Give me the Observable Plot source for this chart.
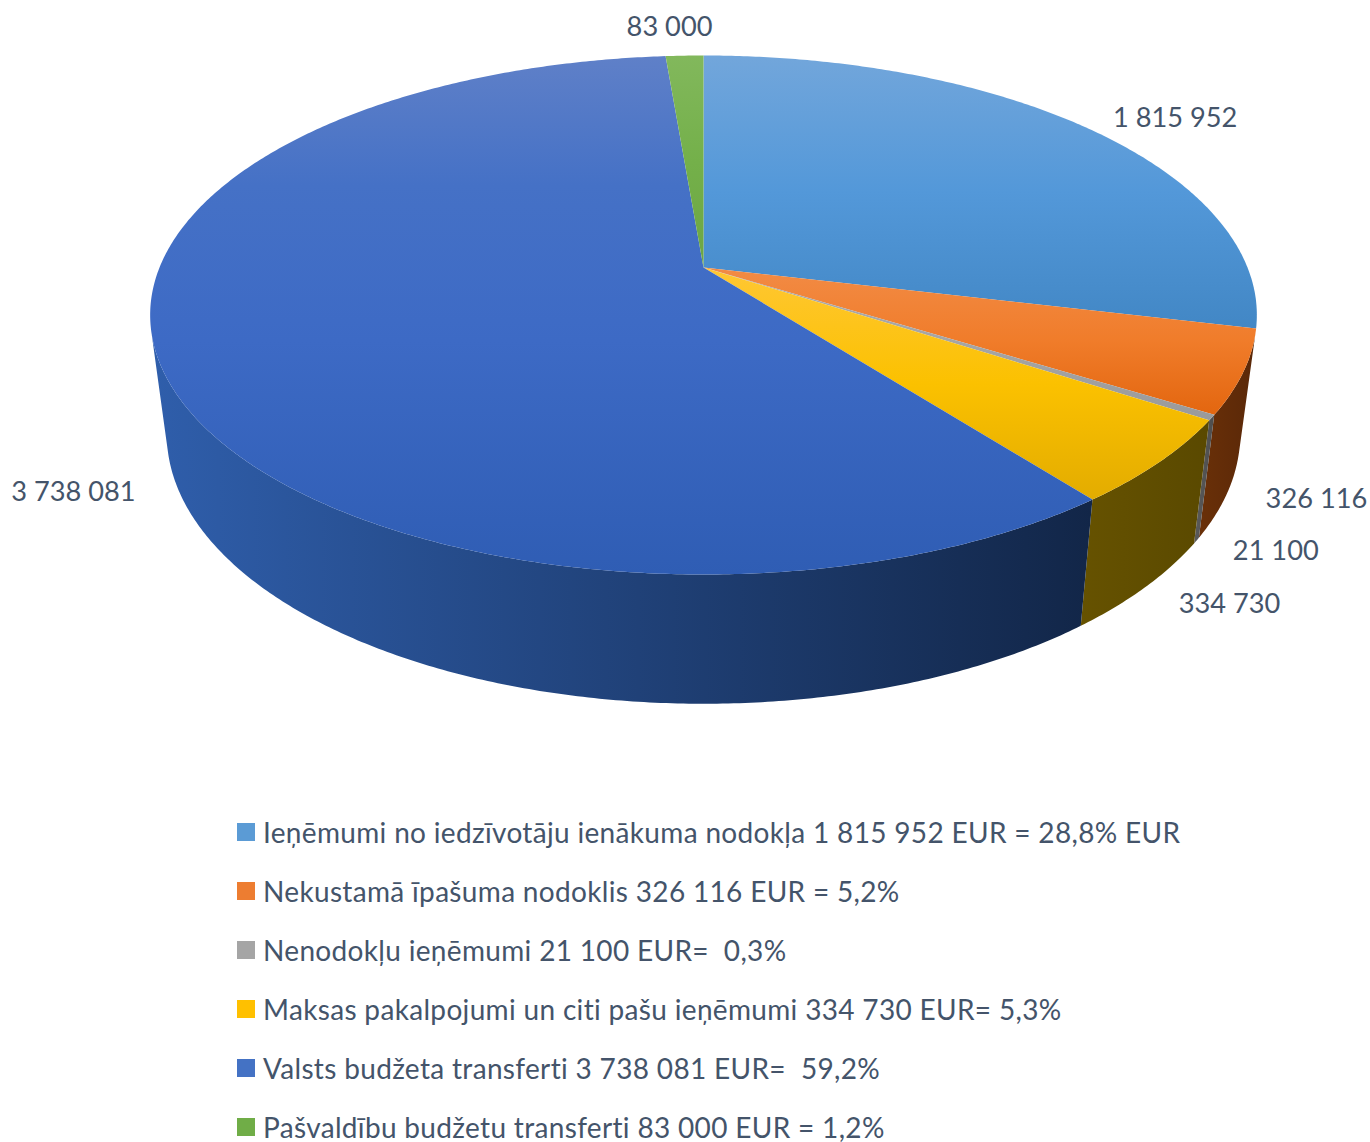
<!DOCTYPE html>
<html lang="lv">
<head>
<meta charset="utf-8">
<script src="https://cdn.jsdelivr.net/npm/d3@7"></script>
<script src="https://cdn.jsdelivr.net/npm/@observablehq/plot@0.6"></script>
<style>
  html, body { margin: 0; padding: 0; background: #fff; width: 1370px; height: 1142px; overflow: hidden; }
  #legend { padding-top: 27px; font-family: Lato, "Noto Sans", sans-serif; font-size: 28px; letter-spacing: 0.33px; color: #44546A; }
  .row { display: flex; align-items: center; height: 30px; margin-bottom: 29px; padding-left: 237px; white-space: pre; }
  .sw { width: 18px; height: 18px; margin-right: 8px; flex: none; }
</style>
</head>
<body>
<div id="chart"></div>
<div id="legend"></div>
<script>
// ---- data ----
const keys = ["iedz", "nek", "nenod", "maks", "valsts", "pasv"];
const values = [1815952, 326116, 21100, 334730, 3738081, 83000];
const valueLabels = ["1 815 952", "326 116", "21 100", "334 730", "3 738 081", "83 000"];
const legendLabels = [
  "Ieņēmumi no iedzīvotāju ienākuma nodokļa 1 815 952 EUR = 28,8% EUR",
  "Nekustamā īpašuma nodoklis 326 116 EUR = 5,2%",
  "Nenodokļu ieņēmumi 21 100 EUR=  0,3%",
  "Maksas pakalpojumi un citi pašu ieņēmumi 334 730 EUR= 5,3%",
  "Valsts budžeta transferti 3 738 081 EUR=  59,2%",
  "Pašvaldību budžetu transferti 83 000 EUR = 1,2%"
];
// ---- styling ----
const topStops = [
  [[0, "#72A6DB"], [0.5, "#5398D9"], [1, "#4287C5"]],
  [[0, "#F28B45"], [0.5, "#F07C2A"], [1, "#E3660F"]],
  [[0, "#ABABAB"], [0.5, "#A5A5A5"], [1, "#9A9A9A"]],
  [[0, "#FFC734"], [0.5, "#FBC100"], [1, "#E3AC00"]],
  [[0, "#5F80C8"], [0.25, "#4571C6"], [0.55, "#3D6AC5"], [1, "#2F5DB4"]],
  [[0, "#82B85C"], [0.5, "#74B04A"], [1, "#6CA643"]]
];
const sideStops = [
  null,
  ["#6A3008", "#5A2808"],
  ["#5A5A5A", "#4E4E4E"],
  ["#665200", "#5A4900"],
  ["#2F5EAB", "#122648"],
  null
];
const swatchColors = ["#5B9BD5", "#ED7D31", "#A5A5A5", "#FFC000", "#4472C4", "#70AD47"];

// ---- 3D pie projection (perspective disc, drawn in page-unit data space) ----
const pie = {cx: 703, cy: 267, k: 544, h: 250.8, q: -0.183};
const base = {sx: 0.97, sy: 1.04, y0: 384};
function onTop(deg) {
  const a = deg * Math.PI / 180, u = Math.sin(a), v = -Math.cos(a), w = 1 + pie.q * v;
  return [pie.cx + pie.k * u / w, pie.cy + pie.h * v / w];
}
function onBase(deg) {
  const [x, y] = onTop(deg);
  return [pie.cx + base.sx * (x - pie.cx), base.y0 + base.sy * (y - pie.cy)];
}
const total = d3.sum(values);
let acc = 0;
const slices = values.map((v, i) => {
  const a0 = acc / total * 360; acc += v; const a1 = acc / total * 360;
  return {i, key: keys[i], a0, a1, mid: (a0 + a1) / 2};
});
function angles(s) {
  const n = Math.max(2, Math.ceil((s.a1 - s.a0) / 0.5));
  return d3.range(n + 1).map(j => s.a0 + (s.a1 - s.a0) * j / n);
}
// a rim step faces the viewer when the wall below it turns outward
function faces(deg) {
  const [x0, y0] = onTop(deg), [x1, y1] = onTop(deg + 0.25), [bx, by] = onBase(deg);
  return (x1 - x0) * (by - y0) - (y1 - y0) * (bx - x0) < 0;
}
const topPoly = s => [[pie.cx, pie.cy], ...angles(s).map(onTop), [pie.cx, pie.cy]];
const sidePoly = s => {
  const seen = angles(s).filter(faces);
  const t = seen.map(onTop), b = seen.map(onBase).reverse();
  return [...t, ...b, t[0]];
};
// where each value label sits relative to the rim point at its slice's mid angle
const labelShift = [[88, -10], [73, 127], [64, 134], [70, 142], [-87, 128], [-15, -28]];
const labelRows = slices.map(s => {
  const [x, y] = onTop(s.mid);
  return {x: x + labelShift[s.i][0], y: y + labelShift[s.i][1], text: valueLabels[s.i]};
});
const sideOrder = [1, 2, 3, 4];

const chart = Plot.plot({
  width: 1370, height: 790,
  margin: 0,
  x: {domain: [0, 1370], range: [0, 1370], axis: null},
  y: {domain: [0, 790], range: [0, 790], axis: null},
  style: {background: "#fff", fontFamily: "Lato, 'Noto Sans', sans-serif"},
  marks: [
    ...sideOrder.map(i => Plot.line(sidePoly(slices[i]), {
      x: d => d[0], y: d => d[1], fill: `url(#side-${i})`, stroke: "none", curve: "linear"
    })),
    ...slices.map(s => Plot.line(topPoly(s), {
      x: d => d[0], y: d => d[1], fill: `url(#top-${s.i})`, stroke: "none", curve: "linear"
    })),
    Plot.text(labelRows, {
      x: "x", y: "y", text: "text", fontSize: 27.2, fill: "#44546A",
      textAnchor: "middle", lineAnchor: "middle"
    })
  ]
});
// gradients referenced by the marks above
const defs = d3.select(chart).insert("defs", ":first-child");
topStops.forEach((stops, i) => {
  const g = defs.append("linearGradient").attr("id", `top-${i}`)
    .attr("x1", 0).attr("y1", 0).attr("x2", 0).attr("y2", 1);
  stops.forEach(([o, c]) => g.append("stop").attr("offset", o).attr("stop-color", c));
});
sideStops.forEach((stops, i) => {
  if (!stops) return;
  const g = defs.append("linearGradient").attr("id", `side-${i}`)
    .attr("x1", 0).attr("y1", 0).attr("x2", 1).attr("y2", 0);
  stops.forEach((c, j) => g.append("stop").attr("offset", j / (stops.length - 1)).attr("stop-color", c));
});
chart.style.display = "block";
document.getElementById("chart").append(chart);

const legend = document.getElementById("legend");
legendLabels.forEach((t, i) => {
  const row = document.createElement("div"); row.className = "row";
  const sw = document.createElement("div"); sw.className = "sw"; sw.style.background = swatchColors[i];
  const tx = document.createElement("span"); tx.textContent = t;
  row.append(sw, tx); legend.append(row);
});
</script>
</body>
</html>
